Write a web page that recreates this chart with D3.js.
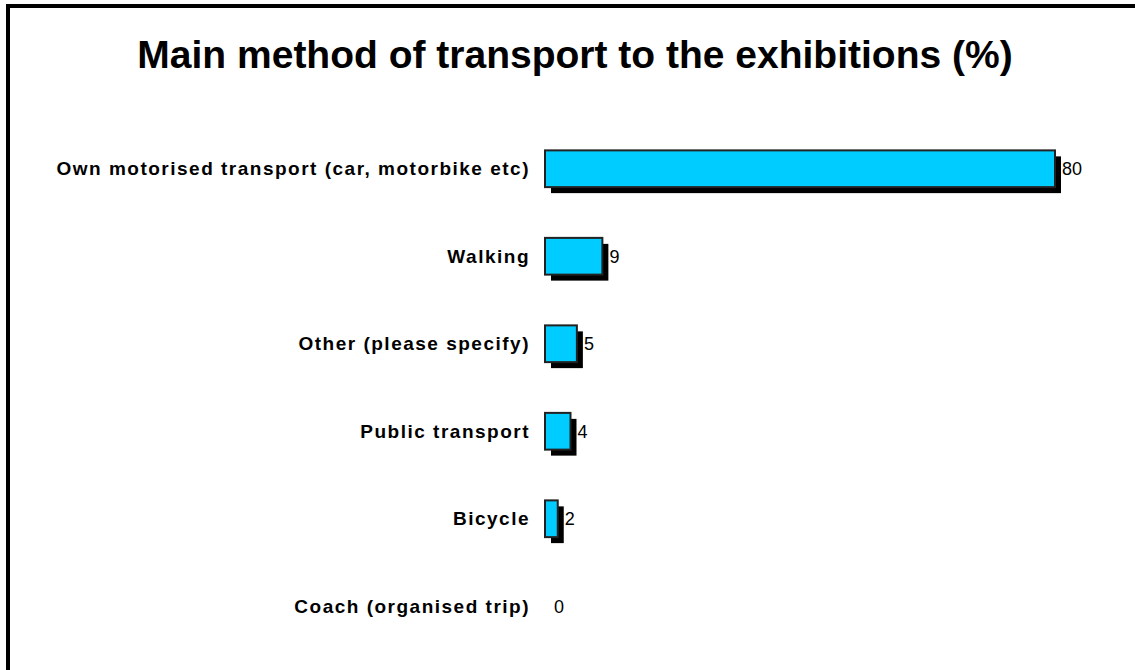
<!DOCTYPE html>
<html>
<head>
<meta charset="utf-8">
<script src="https://cdn.jsdelivr.net/npm/d3@7"></script>
<style>
  body { margin: 0; background: #fff; }
  svg { display: block; font-family: "Liberation Sans", Arial, sans-serif; }
</style>
</head>
<body>
<div id="chart"></div>
<script>
var categories = [
  "Own motorised transport (car, motorbike etc)",
  "Walking",
  "Other (please specify)",
  "Public transport",
  "Bicycle",
  "Coach (organised trip)"
];
var values = [80, 9, 5, 4, 2, 0];

var width = 1135, height = 670;
var svg = d3.select("#chart").append("svg")
    .attr("width", width)
    .attr("height", height);

// outer frame, runs off the right and bottom
svg.append("rect")
    .attr("x", 8).attr("y", 6)
    .attr("width", width + 20).attr("height", height + 20)
    .attr("fill", "#fff")
    .attr("stroke", "#000")
    .attr("stroke-width", 4);

svg.append("text")
    .attr("x", 575).attr("y", 68)
    .attr("text-anchor", "middle")
    .style("font-size", "39px")
    .style("font-weight", "bold")
    .text("Main method of transport to the exhibitions (%)");

var x = d3.scaleLinear().domain([0, 80]).range([545, 1055]);
var y = d3.scaleBand().domain(categories).range([125, 650]).paddingInner(0.58).paddingOuter(0.29);

var row = svg.selectAll(".row")
    .data(categories)
  .enter().append("g")
    .attr("class", "row");

var shadow = 6;
// shadows
row.filter(function(d, i) { return values[i] > 0; })
  .append("rect")
    .attr("x", function(d) { return x(0) + shadow; })
    .attr("y", function(d) { return y(d) + shadow; })
    .attr("width", function(d) { return x(values[categories.indexOf(d)]) - x(0); })
    .attr("height", y.bandwidth())
    .attr("fill", "#000");

row.filter(function(d, i) { return values[i] > 0; })
  .append("rect")
    .attr("x", x(0))
    .attr("y", function(d) { return y(d); })
    .attr("width", function(d) { return x(values[categories.indexOf(d)]) - x(0); })
    .attr("height", y.bandwidth())
    .attr("fill", "#00ccff")
    .attr("stroke", "#222")
    .attr("stroke-width", 2);

row.append("text")
    .attr("x", 530)
    .attr("y", function(d) { return y(d) + y.bandwidth() / 2; })
    .attr("dy", "0.35em")
    .attr("text-anchor", "end")
    .style("font-size", "19px")
    .style("font-weight", "bold")
    .style("letter-spacing", "1.5px")
    .text(function(d) { return d; });

row.append("text")
    .attr("x", function(d, i) { return x(values[i]) + (values[i] > 0 ? shadow + 1 : 9); })
    .attr("y", function(d) { return y(d) + y.bandwidth() / 2; })
    .attr("dy", "0.35em")
    .style("font-size", "18px")
    .text(function(d, i) { return values[i]; });
</script>
</body>
</html>
